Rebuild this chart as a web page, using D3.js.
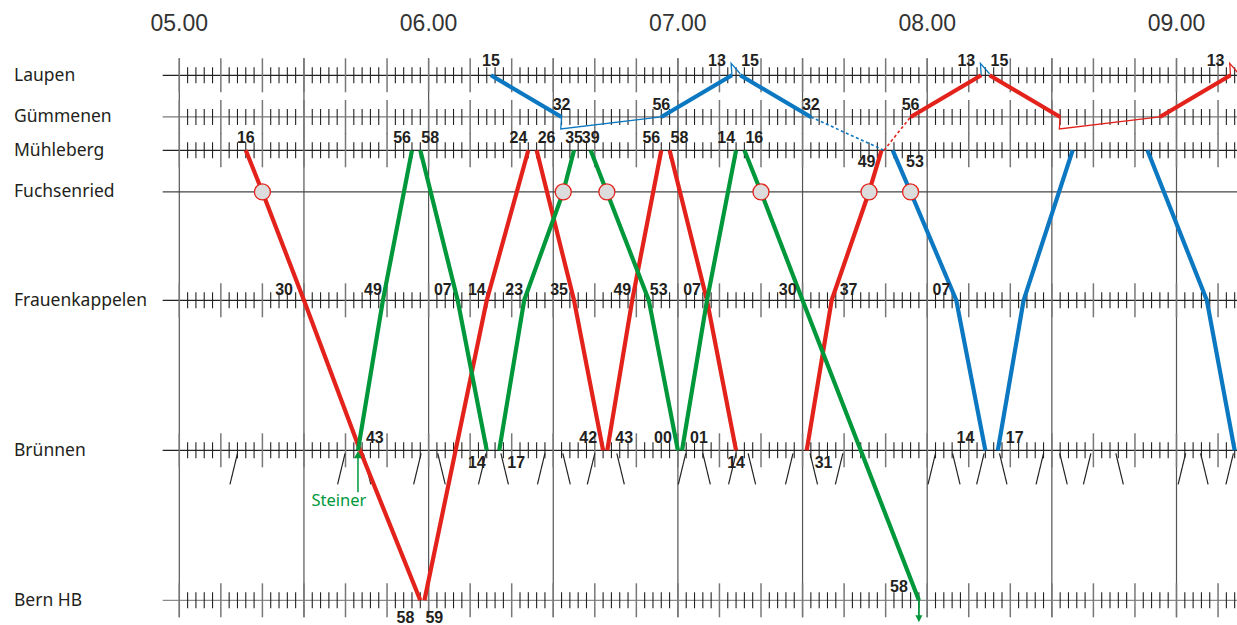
<!DOCTYPE html>
<html><head><meta charset="utf-8">
<script src="https://cdn.jsdelivr.net/npm/d3@7"></script>
<style>body{margin:0;background:#fff;overflow:hidden}</style>
</head><body>
<svg id="c" width="1237" height="625"></svg>
<script>
// ---------------- DATA ----------------
const stations   = ["Laupen","Gümmenen","Mühleberg","Fuchsenried","Frauenkappelen","Brünnen","Bern HB"];
const stationKm  = [0, 2.0, 3.6, 5.6, 10.8, 18.0, 25.2];
const tickedStations = ["Laupen","Gümmenen","Mühleberg","Frauenkappelen","Brünnen","Bern HB"];
const hourLabels = ["05.00","06.00","07.00","08.00","09.00"];

const redRuns = [
  [["Mühleberg","05:16"],["Fuchsenried","05:20"],["Frauenkappelen","05:30"],["Brünnen","05:43.5"],["Bern HB","05:58"]],
  [["Bern HB","05:59"],["Brünnen","06:06.5"],["Frauenkappelen","06:14"],["Mühleberg","06:24"]],
  [["Mühleberg","06:26"],["Frauenkappelen","06:35"],["Brünnen","06:42"]],
  [["Brünnen","06:43"],["Frauenkappelen","06:49"],["Mühleberg","06:56"]],
  [["Mühleberg","06:58"],["Frauenkappelen","07:07"],["Brünnen","07:14"]],
  [["Brünnen","07:31"],["Frauenkappelen","07:37"],["Fuchsenried","07:46"],["Mühleberg","07:49"]],
  [["Gümmenen","07:56"],["Laupen","08:13"]],
  [["Laupen","08:15"],["Gümmenen","08:32"]],
  [["Gümmenen","08:56"],["Laupen","09:13"]]
];
const greenRuns = [
  [["Brünnen","05:43"],["Frauenkappelen","05:49"],["Mühleberg","05:56"]],
  [["Mühleberg","05:58"],["Frauenkappelen","06:07"],["Brünnen","06:14"]],
  [["Brünnen","06:17"],["Frauenkappelen","06:23"],["Fuchsenried","06:32.4"],["Mühleberg","06:35"]],
  [["Mühleberg","06:39"],["Fuchsenried","06:42.9"],["Frauenkappelen","06:53"],["Brünnen","07:00"]],
  [["Brünnen","07:01"],["Frauenkappelen","07:07"],["Mühleberg","07:14"]],
  [["Mühleberg","07:16"],["Fuchsenried","07:20"],["Frauenkappelen","07:30"],["Brünnen","07:44"],["Bern HB","07:58"]]
];
const blueRuns = [
  [["Laupen","06:15"],["Gümmenen","06:32"]],
  [["Gümmenen","06:56"],["Laupen","07:13"]],
  [["Laupen","07:15"],["Gümmenen","07:32"]],
  [["Mühleberg","07:51.7"],["Fuchsenried","07:56"],["Frauenkappelen","08:07"],["Brünnen","08:14"]],
  [["Brünnen","08:17"],["Frauenkappelen","08:23.2"],["Mühleberg","08:35"]],
  [["Mühleberg","08:53"],["Frauenkappelen","09:07.3"],["Brünnen","09:14"]]
];
const dashedRuns = [
  ["blue", [["Gümmenen","07:32"],["Mühleberg","07:49.6"]]],
  ["red",  [["Mühleberg","07:49.6"],["Gümmenen","07:56"]]]
];
// turnarounds: [colour, station, arrival, departure]
const turns = [
  ["blue","Gümmenen","06:32","06:56"],
  ["blue","Laupen","07:13","07:15"],
  ["blue","Laupen","08:13","08:15"],
  ["red","Gümmenen","08:32","08:56"],
  ["red","Laupen","09:13","09:15"]
];
// other-line crossings at Brünnen: [time, direction]
const crossings = [
  ["05:14","/"],["05:39.9","/"],["05:44.3","\\"],["05:58.2","/"],["06:02.2","\\"],["06:13.8","/"],
  ["06:17.4","\\"],["06:28","/"],["06:32.3","\\"],["06:40","/"],["06:45.3","\\"],["07:01.9","/"],
  ["07:06","\\"],["07:14","/"],["07:16.9","\\"],["07:27.7","/"],["07:31.8","\\"],["07:39.7","/"],
  ["08:02","/"],["08:06.1","\\"],["08:13.7","/"],["08:17.4","\\"],["08:28","/"],["08:31.9","\\"],
  ["08:39.4","/"],["08:45.4","\\"],["09:02.2","/"],["09:05.8","\\"],["09:13.7","/"]
];
// time labels: [station, time, side, above/below]
const labels = [
  ["Laupen","06:15","c","a"],["Laupen","07:13","L","a"],["Laupen","07:15","r","a"],
  ["Laupen","08:13","L","a"],["Laupen","08:15","r","a"],["Laupen","09:13","L","a"],
  ["Gümmenen","06:32","c","a"],["Gümmenen","06:56","c","a"],["Gümmenen","07:32","c","a"],["Gümmenen","07:56","c","a"],
  ["Mühleberg","05:16","c","a"],["Mühleberg","05:56","l","a"],["Mühleberg","05:58","r","a"],
  ["Mühleberg","06:24","l","a"],["Mühleberg","06:26","r","a"],["Mühleberg","06:35","c","a"],["Mühleberg","06:39","c","a"],
  ["Mühleberg","06:56","l","a"],["Mühleberg","06:58","r","a"],["Mühleberg","07:14","l","a"],["Mühleberg","07:16","r","a"],
  ["Mühleberg","07:49","L","b"],["Mühleberg","07:53","R","b"],
  ["Frauenkappelen","05:30","W","a"],["Frauenkappelen","05:49","l","a"],["Frauenkappelen","06:07","L","a"],
  ["Frauenkappelen","06:14","l","a"],["Frauenkappelen","06:23","l","a"],["Frauenkappelen","06:35","L","a"],
  ["Frauenkappelen","06:49","l","a"],["Frauenkappelen","06:53","r","a"],["Frauenkappelen","07:07","L","a"],
  ["Frauenkappelen","07:30","L","a"],["Frauenkappelen","07:37","R","a"],["Frauenkappelen","08:07","L","a"],
  ["Brünnen","05:43","R","a"],["Brünnen","06:14","l","b"],["Brünnen","06:17","R","b"],
  ["Brünnen","06:42","L","a"],["Brünnen","06:43","R","a"],["Brünnen","07:00","L","a"],["Brünnen","07:01","R","a"],
  ["Brünnen","07:14","c","b"],["Brünnen","07:31","R","b"],["Brünnen","08:14","W","a"],["Brünnen","08:17","R","a"],
  ["Bern HB","05:58","L","b"],["Bern HB","05:59","r","b"],["Bern HB","07:58","W","a"]
];
const originMark = ["Brünnen","05:43","Steiner"];
const continueMark = ["Bern HB","07:58"];

// ---------------- DRAWING ----------------
const W = 1237, H = 625;
const col = {red:"#e3231b", green:"#00983a", blue:"#0b78c1"};
const parseT = s => { const p = s.split(":"); return +p[0]*60 + parseFloat(p[1]); };
const x = d3.scaleLinear().domain([parseT("05:00"), parseT("09:00")]).range([179.3, 1176.5]);
const y = d3.scaleLinear().domain([0, d3.max(stationKm)]).range([75.3, 600.3]);
const ys = n => y(stationKm[stations.indexOf(n)]);
const svg = d3.select("#c");
const lineStart = x(parseT("04:56"));

// hour labels
svg.append("g").selectAll("text").data(hourLabels).join("text")
  .attr("x", d => x(parseT(d.replace(".",":")))).attr("y", 31)
  .attr("text-anchor","middle").attr("font-family","Liberation Sans, Arial, sans-serif")
  .attr("font-size", 23).attr("fill","#333").text(d => d);

// station labels
svg.append("g").selectAll("text").data(stations).join("text")
  .attr("x", 14).attr("y", d => ys(d) + 5.5)
  .attr("font-family","Noto Sans, sans-serif").attr("font-size", 17.5).attr("fill","#231f20").text(d => d);

// vertical grid (every 30 min)
const gridTimes = d3.range(parseT("05:00"), x.invert(W) + 0.01, 30);
svg.append("g").selectAll("line").data(gridTimes).join("line")
  .attr("x1", d => x(d)).attr("x2", d => x(d))
  .attr("y1", ys("Laupen") - 17).attr("y2", ys("Bern HB") + 17)
  .attr("stroke","#555").attr("stroke-width",1.2);

// station lines
const lineCol = {"Gümmenen":"#7a7a7a","Fuchsenried":"#444","Bern HB":"#8a8a8a"};
svg.append("g").selectAll("line").data(stations).join("line")
  .attr("x1", lineStart).attr("x2", W).attr("y1", d => ys(d)).attr("y2", d => ys(d))
  .attr("stroke", d => lineCol[d] || "#222").attr("stroke-width",1.3);

// minute ticks
const tickTimes = d3.range(parseT("05:00"), x.invert(W) + 0.01, 2);
const tg = svg.append("g");
tickedStations.forEach(s => {
  const yy = ys(s);
  tg.append("g").selectAll("line").data(tickTimes).join("line")
    .attr("x1", d => x(d)).attr("x2", d => x(d))
    .attr("y1", d => yy - (d % 10 === 0 ? 17 : 8))
    .attr("y2", d => yy + (d % 10 === 0 ? 17 : 8))
    .attr("stroke", d => d % 10 === 0 ? "#777" : "#222")
    .attr("stroke-width", d => d % 10 === 0 ? 1.5 : 1.1);
});

// other-line crossing marks below Brünnen
const yb = ys("Brünnen");
svg.append("g").selectAll("line").data(crossings).join("line")
  .attr("x1", d => x(parseT(d[0]))).attr("y1", yb + 3)
  .attr("x2", d => x(parseT(d[0])) + (d[1] === "/" ? -7.5 : 7.5)).attr("y2", yb + 34)
  .attr("stroke","#222").attr("stroke-width",1.2);

// turnaround connectors
svg.append("g").selectAll("path").data(turns).join("path")
  .attr("d", d => {
    const yy = ys(d[1]), off = d[1] === "Laupen" ? -12 : 12;
    const x1 = x(parseT(d[2])), x2 = x(parseT(d[3]));
    return `M${x1},${yy}L${x1 - 0.8},${yy + off}L${x2},${yy + (off < 0 ? -1.5 : 0)}`;
  })
  .attr("fill","none").attr("stroke", d => col[d[0]]).attr("stroke-width",1.3);

const line = d3.line().x(d => x(parseT(d[1]))).y(d => ys(d[0]));

// dashed links
svg.append("g").selectAll("path").data(dashedRuns).join("path")
  .attr("d", d => line(d[1])).attr("fill","none")
  .attr("stroke", d => col[d[0]]).attr("stroke-width",1.6).attr("stroke-dasharray","3,2.5");

// train runs
const runs = [].concat(
  redRuns.map(r => ["red", r]), greenRuns.map(r => ["green", r]), blueRuns.map(r => ["blue", r]));
svg.append("g").selectAll("path").data(runs).join("path")
  .attr("d", d => line(d[1])).attr("fill","none")
  .attr("stroke", d => col[d[0]]).attr("stroke-width",4.2).attr("stroke-linejoin","round");

// request-stop circles at Fuchsenried
const stops = [];
runs.forEach(r => r[1].forEach(p => { if (p[0] === "Fuchsenried") stops.push(p); }));
svg.append("g").selectAll("circle").data(stops).join("circle")
  .attr("cx", d => x(parseT(d[1]))).attr("cy", d => ys(d[0])).attr("r", 8)
  .attr("fill","#dcdcdc").attr("stroke", col.red).attr("stroke-width",1.3);

// origin marker (Steiner)
{
  const ox = x(parseT(originMark[1])), oy = ys(originMark[0]);
  svg.append("line").attr("x1",ox).attr("x2",ox).attr("y1",oy+2).attr("y2",oy+42)
    .attr("stroke",col.green).attr("stroke-width",1.5);
  svg.append("path").attr("d",`M${ox},${oy+1}L${ox-4},${oy+8}L${ox+4},${oy+8}Z`).attr("fill",col.green);
  svg.append("text").attr("x",ox-19).attr("y",oy+56).attr("text-anchor","middle")
    .attr("font-family","Noto Sans, sans-serif").attr("font-size",16.5).attr("fill",col.green).text(originMark[2]);
}
// continuation arrow at Bern HB
{
  const cx = x(parseT(continueMark[1])), cy = ys(continueMark[0]);
  svg.append("line").attr("x1",cx).attr("x2",cx).attr("y1",cy).attr("y2",cy+16)
    .attr("stroke",col.green).attr("stroke-width",1.8);
  svg.append("path").attr("d",`M${cx-3.5},${cy+15}L${cx+3.5},${cy+15}L${cx},${cy+22}Z`).attr("fill",col.green);
}

// time labels
const vOff = {
  "Laupen":{a:-9.3}, "Gümmenen":{a:-7}, "Mühleberg":{a:-7.5,b:17},
  "Frauenkappelen":{a:-5.5}, "Brünnen":{a:-7,b:18}, "Bern HB":{a:-8,b:22.5}
};
const gap = {l:1, L:6, W:11, r:1, R:8, c:0};
const leftSide = s => s === "l" || s === "L" || s === "W";
svg.append("g").selectAll("text").data(labels).join("text")
  .attr("x", d => {
    const xx = x(parseT(d[1]));
    return leftSide(d[2]) ? xx - gap[d[2]] : d[2] === "c" ? xx : xx + gap[d[2]];
  })
  .attr("y", d => ys(d[0]) + vOff[d[0]][d[3]])
  .attr("text-anchor", d => d[2] === "c" ? "middle" : leftSide(d[2]) ? "end" : "start")
  .attr("font-family","Liberation Sans, Arial, sans-serif").attr("font-weight","bold")
  .attr("font-size",16).attr("fill","#231f20")
  .text(d => d[1].slice(3,5));
</script>
</body></html>
